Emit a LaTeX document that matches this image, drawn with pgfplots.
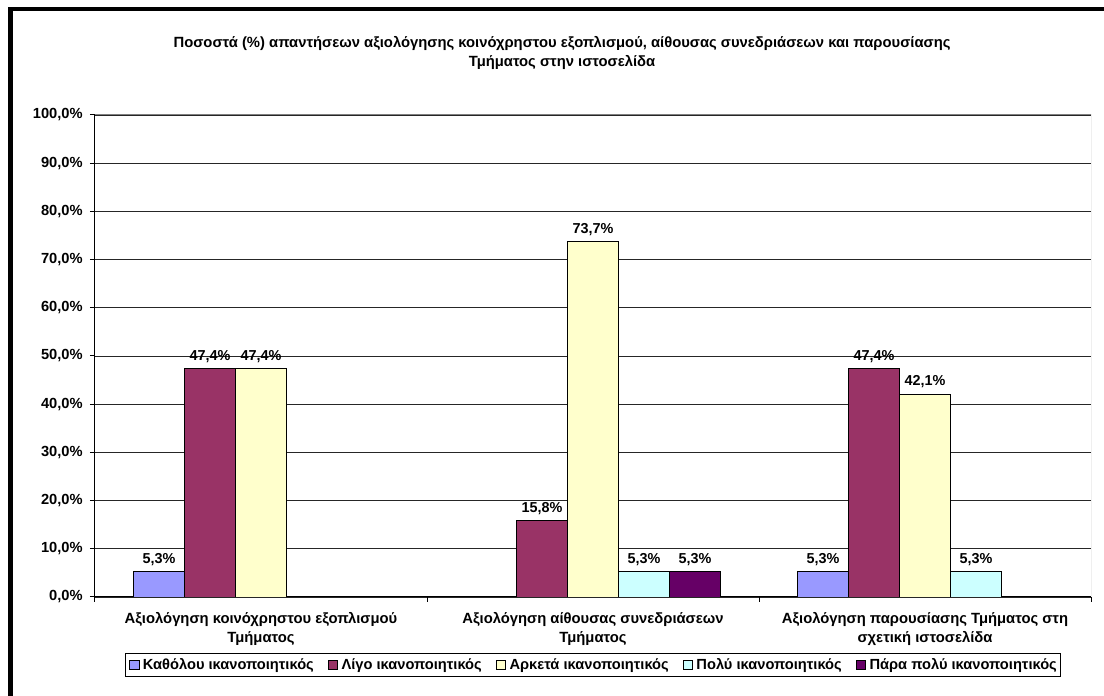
\documentclass[border=0pt]{standalone}
\usepackage{pgfplots}
\pgfplotsset{compat=1.18}
\usepackage{fontspec}
\setmainfont{Liberation Sans}

\definecolor{cBlue}{HTML}{9999FF}
\definecolor{cPlum}{HTML}{993366}
\definecolor{cYel}{HTML}{FFFFCC}
\definecolor{cCyan}{HTML}{CCFFFF}
\definecolor{cPurp}{HTML}{660066}

\pgfplotsset{
  sq/.style={legend image code/.code={\draw[##1,draw=black,line width=0.6pt] (0pt,-3.6pt) rectangle (7.2pt,3.6pt);}},
}

\begin{document}
\begin{tikzpicture}
\useasboundingbox (0,0) rectangle (828pt,522pt);
% outer frame (left and top only visible)
\draw[black,line width=3.75pt] (7.875pt,0) -- (7.875pt,516.75pt);
\draw[black,line width=3pt] (6pt,515.25pt) -- (828pt,515.25pt);

\node[font=\bfseries\fontsize{11.1}{14.25}\selectfont,align=center] at (421.5pt,481.9pt)
  {Ποσοστά (\%) απαντήσεων αξιολόγησης κοινόχρηστου εξοπλισμού, αίθουσας συνεδριάσεων και παρουσίασης\\Τμήματος στην ιστοσελίδα};

\begin{axis}[
    at={(71.25pt,74.25pt)}, anchor=south west,
    width=747pt, height=361.5pt, scale only axis,
    ybar=0pt, bar width=0.1536,
    xmin=-0.5, xmax=2.5, ymin=0, ymax=100,
    axis lines*=left,
    axis line style={black,line width=0.75pt},
    /pgf/number format/assume math mode=true,
    ytick={0,10,...,100},
    yticklabel={\pgfmathprintnumber[fixed,fixed zerofill,precision=1,use comma]{\tick}\%},
    xtick={-0.5,0.5,1.5,2.5},
    x tick label as interval,
    xticklabels={{Αξιολόγηση κοινόχρηστου εξοπλισμού\\Τμήματος},
                 {Αξιολόγηση αίθουσας συνεδριάσεων\\Τμήματος},
                 {Αξιολόγηση παρουσίασης Τμήματος στη\\σχετική ιστοσελίδα}},
    xticklabel style={align=center,font=\bfseries\fontsize{11.1}{14.25}\selectfont,yshift=-4.25pt},
    yticklabel style={font=\bfseries\fontsize{11}{12}\selectfont,xshift=-2pt},
    tick align=outside, major tick length=3.75pt,
    tick style={black,line width=0.75pt},
    ymajorgrids, grid style={black!85,line width=0.6pt},
    nodes near coords={\pgfmathprintnumber[fixed,fixed zerofill,precision=1,use comma]{\pgfplotspointmeta}\%},
    every node near coord/.append style={font=\bfseries\fontsize{10.8}{12}\selectfont,black,yshift=1pt},
    legend columns=5,
    legend style={at={(0.5,-0.141)},anchor=center,draw=black,line width=0.6pt,
      font=\bfseries\fontsize{11}{12}\selectfont,inner xsep=3pt,inner ysep=2pt,
      nodes={inner xsep=0pt},
      /tikz/every odd column/.append style={column sep=2.5pt},
      /tikz/every even column/.append style={column sep=10.5pt}},
    legend cell align=left,
]
\addplot[sq,fill=cBlue,draw=black,line width=0.6pt] coordinates {(0,5.3) (2,5.3)};
\addlegendentry{Καθόλου ικανοποιητικός}
\addplot[sq,fill=cPlum,draw=black,line width=0.6pt] coordinates {(0,47.4) (1,15.8) (2,47.4)};
\addlegendentry{Λίγο ικανοποιητικός}
\addplot[sq,fill=cYel,draw=black,line width=0.6pt] coordinates {(0,47.4) (1,73.7) (2,42.1)};
\addlegendentry{Αρκετά ικανοποιητικός}
\addplot[sq,fill=cCyan,draw=black,line width=0.6pt] coordinates {(1,5.3) (2,5.3)};
\addlegendentry{Πολύ ικανοποιητικός}
\addplot[sq,fill=cPurp,draw=black,line width=0.6pt] coordinates {(1,5.3)};
\addlegendentry{Πάρα πολύ ικανοποιητικός}
\draw[gray,line width=0.75pt] (rel axis cs:0,1) -- (rel axis cs:1,1) -- (rel axis cs:1,0);
\end{axis}
\end{tikzpicture}
\end{document}
